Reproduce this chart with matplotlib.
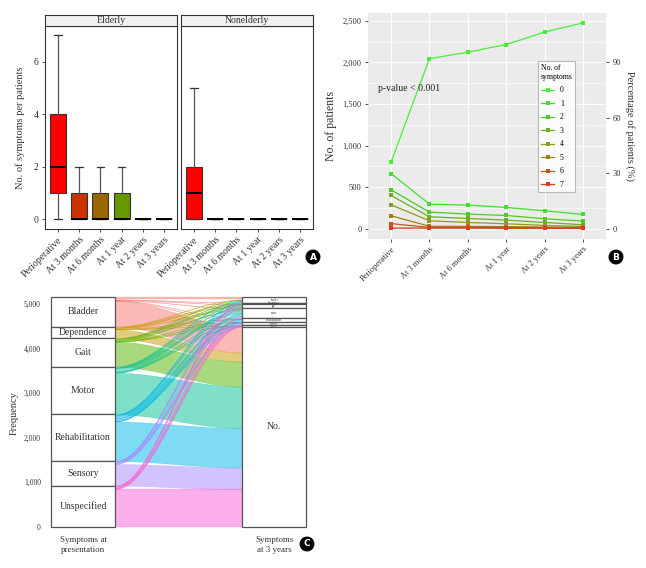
import matplotlib
matplotlib.use("Agg")
import matplotlib.pyplot as plt
import numpy as np
from matplotlib.patches import Rectangle
from matplotlib.lines import Line2D
from matplotlib.ticker import FuncFormatter, MultipleLocator

plt.rcParams['font.family'] = ['Liberation Serif', 'DejaVu Serif']

# ---------------- data ----------------
timepoints = ["Perioperative", "At 3 months", "At 6 months", "At 1 year", "At 2 years", "At 3 years"]
time_colors = ["#FF0000", "#CC3300", "#996600", "#669900", "#33CC00", "#00FF00"]
# [lower whisker, q1, median, q3, upper whisker]
elderly_stats = [[0, 1, 2, 4, 7], [0, 0, 0, 1, 2], [0, 0, 0, 1, 2],
                 [0, 0, 0, 1, 2], [0, 0, 0, 0, 0], [0, 0, 0, 0, 0]]
nonelderly_stats = [[0, 0, 1, 2, 5], [0, 0, 0, 0, 0], [0, 0, 0, 0, 0],
                    [0, 0, 0, 0, 0], [0, 0, 0, 0, 0], [0, 0, 0, 0, 0]]
facets = ["Elderly", "Nonelderly"]

n_symptom_levels = ["0", "1", "2", "3", "4", "5", "6", "7"]
level_colors = ["#44F033", "#3EE02C", "#4CCB22", "#6FAE22", "#8F9A22", "#A07F1A", "#BC5A1C", "#E03A1C"]
patients = [
    [800, 2044, 2122, 2214, 2364, 2474],
    [664, 296, 284, 256, 216, 172],
    [468, 200, 176, 160, 120, 92],
    [400, 144, 124, 104, 76, 48],
    [288, 96, 76, 60, 40, 28],
    [156, 30, 28, 26, 20, 16],
    [62, 16, 16, 14, 12, 10],
    [8, 8, 8, 6, 6, 4],
]
pct_per_patient = 0.045

symptoms = ["Bladder", "Dependence", "Gait", "Motor", "Rehabilitation", "Sensory", "Unspecified"]
symptom_colors = ["#F8766D", "#C49A00", "#53B400", "#00C094", "#00B6EB", "#A58AFF", "#FB61D7"]
# flows from symptom at presentation -> "No." at 3 years
to_no = [585, 202, 562, 937, 885, 487, 840]
# flows from symptom at presentation (rows) -> symptom at 3 years (cols)
to_symptom = [
    [60, 5, 8, 10, 4, 3, 0],
    [10, 15, 10, 15, 5, 3, 2],
    [10, 4, 30, 20, 5, 4, 2],
    [20, 5, 15, 70, 10, 10, 5],
    [15, 5, 15, 60, 50, 12, 7],
    [10, 2, 7, 20, 3, 24, 2],
    [10, 1, 5, 30, 5, 19, 12],
]
right_label_sizes = [1.8, 1.8, 1.8, 1.8, 2.2, 1.8, 1.0]

# ---------------- figure ----------------
W, H = 646, 568
fig = plt.figure(figsize=(W / 100, H / 100), dpi=100)


def rect(x0, y0, x1, y1):
    return [x0 / W, 1 - y1 / H, (x1 - x0) / W, (y1 - y0) / H]


def fx(x):
    return x / W


def fy(y):
    return 1 - y / H


TXT = "#333333"
EDGE = "#333333"

# ---------------- Panel A ----------------
panelsA = [(45, 177), (181, 313)]
for k, (facet, stats_list) in enumerate(zip(facets, [elderly_stats, nonelderly_stats])):
    x0, x1 = panelsA[k]
    ax = fig.add_axes(rect(x0, 26, x1, 229))
    stats = []
    for s in stats_list:
        stats.append(dict(whislo=s[0], q1=s[1], med=s[2], q3=s[3], whishi=s[4], fliers=[]))
    pos = np.arange(1, len(timepoints) + 1)
    bp = ax.bxp(stats, positions=pos, widths=0.75, patch_artist=True, capwidths=0.36,
                showfliers=False,
                boxprops=dict(edgecolor=EDGE, linewidth=0.8),
                whiskerprops=dict(color="#555555", linewidth=0.9),
                capprops=dict(color="#333333", linewidth=0.9),
                medianprops=dict(color="black", linewidth=1.4))
    for patch, c in zip(bp['boxes'], time_colors):
        patch.set_facecolor(c)
    ax.set_xlim(0.4, 6.6)
    ax.set_ylim(-0.369, 7.358)
    ax.set_xticks(pos)
    ax.set_xticklabels(timepoints, rotation=45, ha='right', va='top', rotation_mode='anchor',
                       fontsize=6, color=TXT)
    ax.set_yticks([0, 2, 4, 6])
    ax.tick_params(length=2.5, width=0.6, color=EDGE, labelsize=7, labelcolor=TXT, pad=2)
    for sp in ax.spines.values():
        sp.set_color(EDGE)
        sp.set_linewidth(0.8)
    if k == 0:
        ax.set_ylabel("No. of symptoms per patients", fontsize=7.5, color=TXT, labelpad=6)
    else:
        ax.set_yticklabels([])
        ax.tick_params(axis='y', length=0)
    sax = fig.add_axes(rect(x0, 15, x1, 26))
    sax.set_facecolor("#F2F2F2")
    sax.set_xticks([])
    sax.set_yticks([])
    for sp in sax.spines.values():
        sp.set_color(EDGE)
        sp.set_linewidth(0.8)
    sax.text(0.5, 0.5, facet, ha='center', va='center', fontsize=7, color=TXT,
             transform=sax.transAxes)

# ---------------- Panel B ----------------
axB = fig.add_axes(rect(368, 13, 606, 239))
axB.set_facecolor("#EBEBEB")
xpos = np.arange(1, len(timepoints) + 1)
for lvl, col, vals in zip(n_symptom_levels, level_colors, patients):
    axB.plot(xpos, vals, color=col, linewidth=0.9, marker='s', markersize=2.2,
             markeredgewidth=0, zorder=3)
axB.set_xlim(0.4, 6.6)
axB.set_ylim(-123, 2593)
axB.set_xticks(xpos)
axB.set_xticklabels(timepoints, rotation=45, ha='right', va='top', rotation_mode='anchor',
                    fontsize=6, color=TXT)
axB.set_yticks([0, 500, 1000, 1500, 2000, 2500])
axB.yaxis.set_major_formatter(FuncFormatter(lambda v, p: f"{int(v):,}"))
axB.yaxis.set_minor_locator(MultipleLocator(250))
axB.grid(True, which='major', color='white', linewidth=0.8, zorder=0)
axB.grid(True, which='minor', axis='y', color='white', linewidth=0.4, zorder=0)
axB.set_axisbelow(True)
for sp in axB.spines.values():
    sp.set_visible(False)
axB.tick_params(length=2.5, width=0.6, color=EDGE, labelsize=6, labelcolor=TXT, pad=2)
axB.tick_params(which='minor', length=0)
axB.set_ylabel("No. of patients", fontsize=8.5, color=TXT, labelpad=4)
sec = axB.secondary_yaxis('right', functions=(lambda y: y * pct_per_patient,
                                               lambda p: p / pct_per_patient))
sec.set_yticks([0, 30, 60, 90])
sec.tick_params(length=2.5, width=0.6, color=EDGE, labelsize=6, labelcolor=TXT, pad=2)
for sp in sec.spines.values():
    sp.set_visible(False)
sec.set_ylabel("Percentage of patients (%)", fontsize=7.5, color=TXT, rotation=270, labelpad=10)
axB.text(0.66, 1690, "p-value < 0.001", fontsize=7, color="#222222", ha='left', va='center')

handles = [Line2D([0], [0], color=c, linewidth=0.9, marker='s', markersize=2.2, markeredgewidth=0)
           for c in level_colors]
leg = axB.legend(handles, n_symptom_levels, title="No. of\nsymptoms", loc='upper left',
                 bbox_to_anchor=(fx(538), fy(61)), bbox_transform=fig.transFigure,
                 borderaxespad=0, fontsize=5.5, title_fontsize=5.5, frameon=True, fancybox=False,
                 handlelength=1.8, labelspacing=0.72, borderpad=0.35, handletextpad=0.7,
                 alignment='left')
leg.get_frame().set_edgecolor("#AAAAAA")
leg.get_frame().set_linewidth(0.8)
leg.get_frame().set_facecolor("white")

# ---------------- Panel C ----------------
axC = fig.add_axes(rect(45, 288, 312, 532))
axC.set_xlim(0.801, 2.199)
axC.set_ylim(-119, 5366)
for sp in axC.spines.values():
    sp.set_visible(False)
axC.set_xticks([])
axC.set_yticks([0, 1000, 2000, 3000, 4000, 5000])
axC.yaxis.set_major_formatter(FuncFormatter(lambda v, p: f"{int(v):,}"))
axC.tick_params(axis='y', length=0, labelsize=5.5, labelcolor=TXT, pad=3)
fig.text(fx(14), fy(413), "Frequency", rotation=90, ha='center', va='center',
         fontsize=7.5, color=TXT)

nS = len(symptoms)
row_sums = [sum(r) for r in to_symptom]
col_sums = [sum(to_symptom[i][j] for i in range(nS)) for j in range(nS)]
left_tot = [to_no[i] + row_sums[i] for i in range(nS)]
total = sum(left_tot)
n_no = sum(to_no)

# left positions
left_strata = []
left_flow = {}
top = total
for i in range(nS):
    left_strata.append((top - left_tot[i], top))
    cur = top
    for j in range(nS):
        f = to_symptom[i][j]
        left_flow[(i, j)] = (cur - f, cur)
        cur -= f
    left_flow[(i, 'no')] = (cur - to_no[i], cur)
    top -= left_tot[i]

# right positions
right_strata = []
right_flow = {}
top = total
for j in range(nS):
    right_strata.append((top - col_sums[j], top))
    cur = top
    for i in range(nS):
        f = to_symptom[i][j]
        right_flow[(i, j)] = (cur - f, cur)
        cur -= f
    top -= col_sums[j]
no_stratum = (0, n_no)
cur = n_no
for i in range(nS):
    right_flow[(i, 'no')] = (cur - to_no[i], cur)
    cur -= to_no[i]

hw = 1 / 6
xl, xr = 1 + hw, 2 - hw
xs = np.linspace(xl, xr, 120)
t = (xs - xl) / (xr - xl)
sm = t * t * (3 - 2 * t)

for i in range(nS):
    keys = [(i, 'no')] + [(i, j) for j in range(nS)]
    for key in keys:
        l0, l1 = left_flow[key]
        r0, r1 = right_flow[key]
        if l1 - l0 <= 0:
            continue
        lo = l0 + (r0 - l0) * sm
        hi = l1 + (r1 - l1) * sm
        axC.fill_between(xs, lo, hi, color=symptom_colors[i], alpha=0.5, linewidth=0.3,
                         edgecolor=symptom_colors[i], zorder=2)

box_kw = dict(facecolor='white', edgecolor='#555555', linewidth=0.9, zorder=4)
for i, (b0, b1) in enumerate(left_strata):
    axC.add_patch(Rectangle((1 - hw, b0), 2 * hw, b1 - b0, **box_kw))
    axC.text(1, (b0 + b1) / 2, symptoms[i], ha='center', va='center', fontsize=7,
             color=TXT, zorder=5)
for j, (b0, b1) in enumerate(right_strata):
    axC.add_patch(Rectangle((2 - hw, b0), 2 * hw, b1 - b0, **box_kw))
    axC.text(2, (b0 + b1) / 2, symptoms[j].lower(), ha='center', va='center',
             fontsize=right_label_sizes[j], color=TXT, zorder=5)
axC.add_patch(Rectangle((2 - hw, no_stratum[0]), 2 * hw, no_stratum[1] - no_stratum[0], **box_kw))
axC.text(2, sum(no_stratum) / 2, "No.", ha='center', va='center', fontsize=7, color=TXT, zorder=5)

fig.text(fx(83), fy(536), "Symptoms at\npresentation", ha='center', va='top', fontsize=6.5,
         color=TXT, linespacing=1.4)
fig.text(fx(274), fy(536), "Symptoms\nat 3 years", ha='center', va='top', fontsize=6.5,
         color=TXT, linespacing=1.4)

# ---------------- panel letters ----------------
for letter, (px, py) in zip("ABC", [(313, 257), (616, 257), (307, 544)]):
    fig.text(fx(px), fy(py), letter, ha='center', va='center', fontsize=6.5, color='white',
             fontweight='bold', family=['DejaVu Sans'],
             bbox=dict(boxstyle='circle,pad=0.25', facecolor='black', edgecolor='black'))

fig.savefig("out.png", dpi=100)
